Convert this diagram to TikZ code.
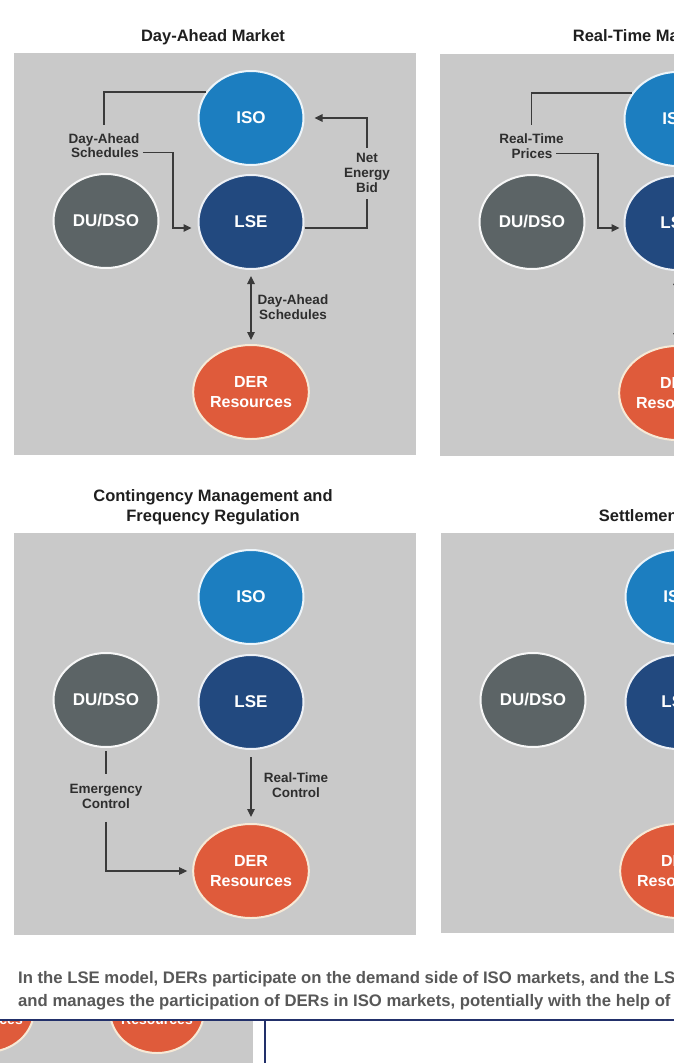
\documentclass[tikz,border=0pt]{standalone}
\usepackage{fontspec}
\setmainfont{Liberation Sans}
\usetikzlibrary{arrows.meta,calc,shapes.geometric}

\definecolor{panelgray}{HTML}{C9C9C9}
\definecolor{isoblue}{HTML}{1C7EC0}
\definecolor{lsenavy}{HTML}{22497F}
\definecolor{dugray}{HTML}{5C6466}
\definecolor{derorange}{HTML}{DF5B3B}
\definecolor{rimcream}{HTML}{F6E9D6}
\definecolor{linegray}{HTML}{3A3A3A}
\definecolor{labeltext}{HTML}{2E2E2E}
\definecolor{captiongray}{HTML}{585858}
\definecolor{navyrule}{HTML}{22306A}

\begin{document}
\begin{tikzpicture}[x=1pt,y=-1pt,
  bubble/.style={ellipse, minimum width=105pt, minimum height=94pt, line width=2pt,
    text=white, inner sep=0pt, align=center, font=\bfseries\fontsize{17}{19}\selectfont},
  isonode/.style={bubble, fill=isoblue, draw=white!92!isoblue},
  lsenode/.style={bubble, fill=lsenavy, draw=white!92!lsenavy},
  dunode/.style={bubble, fill=dugray, draw=white!95!dugray},
  dernode/.style={bubble, fill=derorange, draw=rimcream, font=\bfseries\fontsize{16}{20}\selectfont},
  smallder/.style={dernode, minimum width=94pt, minimum height=84pt},
  smalltext/.style={text=white, font=\bfseries\fontsize{14}{17}\selectfont, inner sep=0pt},
  lbl/.style={text=labeltext, font=\bfseries\fontsize{13.5}{15}\selectfont, align=center, inner sep=2pt},
  heading/.style={text=black!88, font=\bfseries\fontsize{16.5}{20}\selectfont, align=center, inner sep=0pt},
  caption/.style={text=captiongray, font=\bfseries\fontsize{16.7}{23}\selectfont, inner sep=0pt},
  conn/.style={draw=linegray, line width=1.1pt},
  tip/.style={conn, -{Triangle[length=8pt,width=7.5pt]}},
  twotip/.style={conn, {Triangle[length=8pt,width=7.5pt]}-{Triangle[length=8pt,width=7.5pt]}},
  panel/.style={fill=panelgray, draw=none}
]
\useasboundingbox (0,0) rectangle (674,1063);
\clip (0,0) rectangle (674,1063);
\fill[white] (0,0) rectangle (674,1063);

% ---------- Day-Ahead Market ----------
\node[heading, anchor=base] (a-title) at (213,41) {Day-Ahead Market};
\fill[panel] (14,53) rectangle (416,455);
\node[isonode] (a-iso) at (251,118) {ISO};
\node[lsenode] (a-lse) at (251,222) {LSE};
\node[dunode]  (a-du)  at (106,221) {DU/DSO};
\node[dernode] (a-der) at (251,392) {DER\\Resources};
\node[lbl, anchor=base] (a-da1) at (104,143) {Day-Ahead};
\node[lbl, anchor=base] (a-da2) at (105,157) {Schedules};
\coordinate (a-k1) at (173,228);
\draw[conn, shorten >=6pt] (a-iso.150) -| (a-da1.north);
\draw[tip, shorten <=2pt, shorten >=6pt] (a-da2.east) -| (a-k1) -- (a-lse.west |- a-k1);
\node[lbl] (a-neb) at (367,172.5) {Net\\Energy\\Bid};
\coordinate (a-k2) at (367,228);
\draw[conn, shorten >=5pt] (a-lse.east |- a-k2) -- (a-k2) -- (a-neb.south);
\draw[tip, shorten <=3pt, shorten >=10pt] (a-neb.north) |- (a-iso.east);
\draw[twotip, shorten <=6pt, shorten >=4pt] (a-lse.south) -- (a-der.north);
\node[lbl] (a-das) at (293,307.5) {Day-Ahead\\Schedules};

% ---------- Real-Time Market ----------
\node[heading, anchor=base] (b-title) at (641,41) {Real-Time Market};
\begin{scope}[shift={(426,1)}]
\fill[panel] (14,53) rectangle (416,455);
\node[isonode] (b-iso) at (251,118) {ISO};
\node[lsenode] (b-lse) at (251,222) {LSE};
\node[dunode]  (b-du)  at (106,221) {DU/DSO};
\node[dernode] (b-der) at (251,392) {DER\\Resources};
\node[lbl, anchor=base] (b-rt1) at (105.5,142) {Real-Time};
\node[lbl, anchor=base] (b-rt2) at (106,157) {Prices};
\coordinate (b-k1) at (172,227);
\draw[conn, shorten >=6pt] (b-iso.150) -| (b-rt1.north);
\draw[tip, shorten <=2pt, shorten >=4pt] (b-rt2.east) -| (b-k1) -- (b-lse.west |- b-k1);
\draw[twotip, shorten <=6pt, shorten >=4pt] (b-lse.south) -- (b-der.north);
\end{scope}

% ---------- Contingency Management and Frequency Regulation ----------
\node[heading] (c-title) at (213,507) {Contingency Management and\\Frequency Regulation};
\begin{scope}[shift={(0,480)}]
\fill[panel] (14,53) rectangle (416,455);
\node[isonode] (c-iso) at (251,117) {ISO};
\node[lsenode] (c-lse) at (251,222) {LSE};
\node[dunode]  (c-du)  at (106,220) {DU/DSO};
\node[dernode] (c-der) at (251,391) {DER\\Resources};
\node[lbl] (c-em) at (106,316.5) {Emergency\\Control};
\draw[conn, shorten <=3pt, shorten >=8pt] (c-du.south) -- (c-em.north);
\draw[tip, shorten <=11pt, shorten >=5pt] (c-em.south) |- (c-der.west);
\node[lbl] (c-rtc) at (296,305) {Real-Time\\Control};
\draw[tip, shorten <=7pt, shorten >=6pt] (c-lse.south) -- (c-der.north);
\end{scope}

% ---------- Settlement ----------
\node[heading, anchor=base] (d-title) at (641,521) {Settlement};
\begin{scope}[shift={(427,480)}]
\fill[panel] (14,53) rectangle (416,453);
\node[isonode] (d-iso) at (251,117) {ISO};
\node[lsenode] (d-lse) at (251,222) {LSE};
\node[dunode]  (d-du)  at (106,220) {DU/DSO};
\node[dernode] (d-der) at (251,391) {DER\\Resources};
\draw[tip, shorten <=7pt, shorten >=6pt] (d-lse.south) -- (d-der.north);
\end{scope}

% ---------- caption ----------
\node[caption, anchor=base west] (cap1) at (18,983)
  {In the LSE model, DERs participate on the demand side of ISO markets, and the LSE};
\node[caption, anchor=base west] (cap2) at (18,1006)
  {and manages the participation of DERs in ISO markets, potentially with the help of};

% ---------- strip below the rule ----------
\begin{scope}
\clip (0,1021) rectangle (253,1063);
\fill[panel] (0,1021) rectangle (253,1063);
\node[smallder] (e-der1) at (-13,1010) {};
\node[smallder] (e-der2) at (157,1011) {};
\node[smalltext, anchor=base] (e-txt1) at (e-der1.center |- 0,1024) {Resources};
\node[smalltext, anchor=base] (e-txt2) at (e-der2.center |- 0,1024) {Resources};
\end{scope}
\draw[navyrule, line width=2pt] (0,1020) -- (674,1020);
\draw[navyrule, line width=2pt] (265,1020) -- (265,1063);
\end{tikzpicture}
\end{document}
